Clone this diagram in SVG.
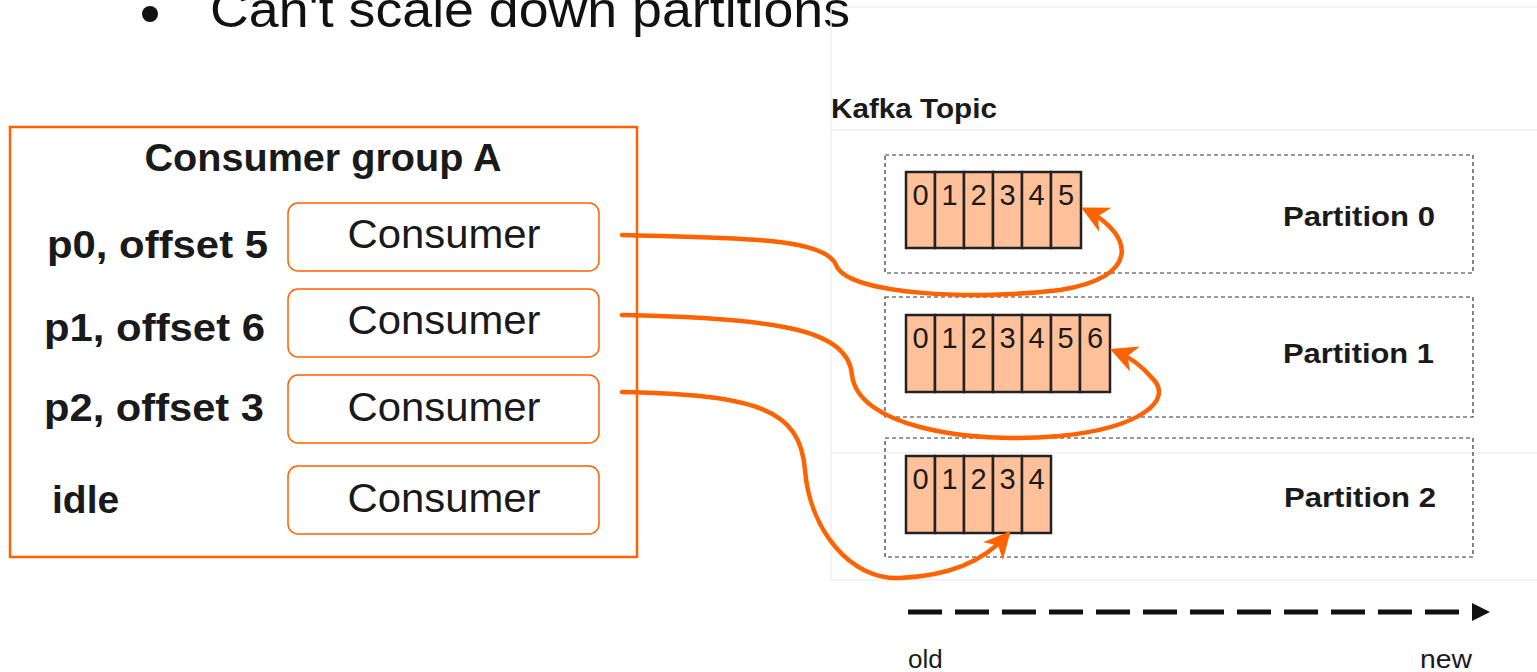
<svg xmlns="http://www.w3.org/2000/svg" width="1537" height="672" viewBox="0 0 1537 672">
<style>
.lbl{font-family:"Liberation Sans",Arial,sans-serif;font-weight:bold;fill:#1a1a1a}
.cons{font-family:"Liberation Sans",Arial,sans-serif;font-size:41px;fill:#1a1a1a;text-anchor:middle}
.cbox{fill:#fff;stroke:#ff6200;stroke-width:1.5}
.cell{fill:#ffc09a;stroke:#222;stroke-width:2.5}
.dig{font-family:"Liberation Sans",Arial,sans-serif;font-size:29px;fill:#1a1a1a;text-anchor:middle}
.part{fill:none;stroke:#333;stroke-width:1.2;stroke-dasharray:4 3}
.plabel{font-family:"Liberation Sans",Arial,sans-serif;font-weight:bold;font-size:28px;fill:#1a1a1a}
.conn{fill:none;stroke:#ff6200;stroke-width:4.5;stroke-linecap:round}
.faint{stroke:#efefef;stroke-width:1.5;fill:none}
.small{font-family:"Liberation Sans",Arial,sans-serif;font-size:26px;fill:#1a1a1a}
</style>
<defs>
<marker id="oh" viewBox="0 0 10 10" refX="8" refY="5" markerWidth="6" markerHeight="6" orient="auto" markerUnits="strokeWidth">
<path d="M0,0 L10,5 L0,10 L3,5 Z" fill="#ff6200"/>
</marker>
</defs>
<rect width="1537" height="672" fill="#fff"/>

<g id="title">
<circle cx="150" cy="14" r="8" fill="#111"/>
<text x="210" y="27" font-family="'Liberation Sans',Arial,sans-serif" font-size="50" fill="#111" textLength="640" lengthAdjust="spacingAndGlyphs">Can't scale down partitions</text>
</g>

<g id="kafka-panel">
<path class="faint" d="M831,7 H1537 M831,7 V580 H1537 M831,130 H1537 M831,453 H1537"/>
<text class="lbl" x="831" y="118" font-size="28" textLength="166" lengthAdjust="spacingAndGlyphs">Kafka Topic</text>
</g>

<g id="consumer-group">
<rect x="10" y="127" width="627" height="430" fill="none" stroke="#ff6200" stroke-width="2.5"/>
<text class="lbl" x="323" y="171" font-size="38" text-anchor="middle" textLength="357" lengthAdjust="spacingAndGlyphs">Consumer group A</text>
</g>

<g id="consumer0">
<rect class="cbox" x="288" y="203" width="311" height="68" rx="10"/>
<text class="cons" x="444" y="248" textLength="193" lengthAdjust="spacingAndGlyphs">Consumer</text>
<text class="lbl" x="47" y="258" font-size="39" textLength="221" lengthAdjust="spacingAndGlyphs">p0, offset 5</text>
</g>
<g id="consumer1">
<rect class="cbox" x="288" y="289" width="311" height="68" rx="10"/>
<text class="cons" x="444" y="334" textLength="193" lengthAdjust="spacingAndGlyphs">Consumer</text>
<text class="lbl" x="44" y="341" font-size="39" textLength="221" lengthAdjust="spacingAndGlyphs">p1, offset 6</text>
</g>
<g id="consumer2">
<rect class="cbox" x="288" y="375" width="311" height="68" rx="10"/>
<text class="cons" x="444" y="421" textLength="193" lengthAdjust="spacingAndGlyphs">Consumer</text>
<text class="lbl" x="44" y="421" font-size="39" textLength="220" lengthAdjust="spacingAndGlyphs">p2, offset 3</text>
</g>
<g id="consumer3">
<rect class="cbox" x="288" y="466" width="311" height="68" rx="10"/>
<text class="cons" x="444" y="512" textLength="193" lengthAdjust="spacingAndGlyphs">Consumer</text>
<text class="lbl" x="52" y="513" font-size="39">idle</text>
</g>

<g id="partition0">
<rect class="part" x="885" y="155" width="588" height="118"/>
<rect class="cell" x="906" y="172" width="29" height="76"/><text class="dig" x="920.5" y="205">0</text>
<rect class="cell" x="935" y="172" width="29" height="76"/><text class="dig" x="949.5" y="205">1</text>
<rect class="cell" x="964" y="172" width="29" height="76"/><text class="dig" x="978.5" y="205">2</text>
<rect class="cell" x="993" y="172" width="29" height="76"/><text class="dig" x="1007.5" y="205">3</text>
<rect class="cell" x="1022" y="172" width="29" height="76"/><text class="dig" x="1036.5" y="205">4</text>
<rect class="cell" x="1051" y="172" width="30" height="76"/><text class="dig" x="1066" y="205">5</text>
<text class="plabel" x="1283" y="226" textLength="152" lengthAdjust="spacingAndGlyphs">Partition 0</text>
</g>

<g id="partition1">
<rect class="part" x="885" y="297" width="588" height="120"/>
<rect class="cell" x="906" y="315" width="29" height="77"/><text class="dig" x="920.5" y="348">0</text>
<rect class="cell" x="935" y="315" width="29" height="77"/><text class="dig" x="949.5" y="348">1</text>
<rect class="cell" x="964" y="315" width="29" height="77"/><text class="dig" x="978.5" y="348">2</text>
<rect class="cell" x="993" y="315" width="29" height="77"/><text class="dig" x="1007.5" y="348">3</text>
<rect class="cell" x="1022" y="315" width="29" height="77"/><text class="dig" x="1036.5" y="348">4</text>
<rect class="cell" x="1051" y="315" width="29" height="77"/><text class="dig" x="1065.5" y="348">5</text>
<rect class="cell" x="1080" y="315" width="30" height="77"/><text class="dig" x="1095" y="348">6</text>
<text class="plabel" x="1283" y="363" textLength="151" lengthAdjust="spacingAndGlyphs">Partition 1</text>
</g>

<g id="partition2">
<rect class="part" x="885" y="438" width="588" height="119"/>
<rect class="cell" x="906" y="456" width="29" height="77"/><text class="dig" x="920.5" y="489">0</text>
<rect class="cell" x="935" y="456" width="29" height="77"/><text class="dig" x="949.5" y="489">1</text>
<rect class="cell" x="964" y="456" width="29" height="77"/><text class="dig" x="978.5" y="489">2</text>
<rect class="cell" x="993" y="456" width="29" height="77"/><text class="dig" x="1007.5" y="489">3</text>
<rect class="cell" x="1022" y="456" width="29" height="77"/><text class="dig" x="1036.5" y="489">4</text>
<text class="plabel" x="1284" y="507" textLength="152" lengthAdjust="spacingAndGlyphs">Partition 2</text>
</g>

<g id="connectors">
<path class="conn" marker-end="url(#oh)" d="M622,235 C720,238 825,236 836,265 C848,296 980,300 1060,290 C1140,278 1135,235 1086,210"/>
<path class="conn" marker-end="url(#oh)" d="M622,315 C780,318 848,330 852,375 C858,425 960,444 1060,436 C1140,428 1175,400 1152,378 C1142,366 1130,357 1115,351"/>
<path class="conn" marker-end="url(#oh)" d="M622,392 C760,395 800,410 805,470 C810,530 850,580 900,578 C950,576 985,560 1007,535"/>
<path d="M908,612 H1478" stroke="#111" stroke-width="5" stroke-dasharray="34 13" fill="none"/>
<path d="M1472,603 L1490,612 L1472,621 Z" fill="#111"/>
</g>

<g id="axis-labels">
<text class="small" x="908" y="668">old</text>
<text class="small" x="1420" y="668" textLength="52" lengthAdjust="spacingAndGlyphs">new</text>
</g>
</svg>
